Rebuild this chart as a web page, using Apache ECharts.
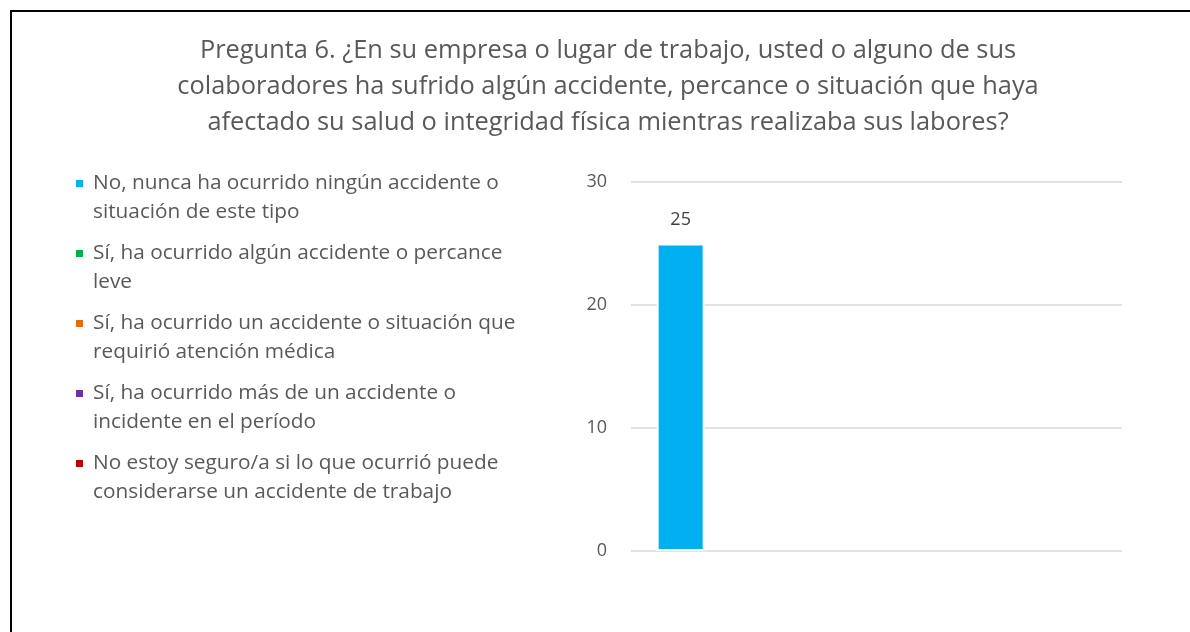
<!DOCTYPE html>
<html>
<head>
<meta charset="utf-8">
<script src="https://cdn.jsdelivr.net/npm/echarts@6/dist/echarts.min.js"></script>
<style>
html,body{margin:0;padding:0;background:#fff;}
#main{width:1190px;height:632px;}
</style>
</head>
<body>
<div id="main"></div>
<script>
var titleText = "Pregunta 6. ¿En su empresa o lugar de trabajo, usted o alguno de sus\ncolaboradores ha sufrido algún accidente, percance o situación que haya\nafectado su salud o integridad física mientras realizaba sus labores?";
var categories = [""];
var seriesNames = [
  "No, nunca ha ocurrido ningún accidente o situación de este tipo",
  "Sí, ha ocurrido algún accidente o percance leve",
  "Sí, ha ocurrido un accidente o situación que requirió atención médica",
  "Sí, ha ocurrido más de un accidente o incidente en el período",
  "No estoy seguro/a si lo que ocurrió puede considerarse un accidente de trabajo"
];
var legendLines = [
  ["No, nunca ha ocurrido ningún accidente o", "situación de este tipo"],
  ["Sí, ha ocurrido algún accidente o percance", "leve"],
  ["Sí, ha ocurrido un accidente o situación que", "requirió atención médica"],
  ["Sí, ha ocurrido más de un accidente o", "incidente en el período"],
  ["No estoy seguro/a si lo que ocurrió puede", "considerarse un accidente de trabajo"]
];
var seriesValues = [[25], [null], [null], [null], [null]];
var seriesColors = ["#00B0F0", "#00B050", "#E46C0A", "#7030A0", "#C00000"];
var yTicks = [0, 10, 20, 30];

var FONT = "Open Sans";
var chart = echarts.init(document.getElementById('main'));
var series = seriesNames.map(function (n, i) {
  return {
    name: n,
    type: 'bar',
    data: seriesValues[i],
    barWidth: 48,
    barGap: '104%',
    itemStyle: { color: seriesColors[i], borderColor: '#ffffff', borderWidth: 2 },
    label: { show: true, position: 'top', distance: 15, color: '#404040', fontSize: 18, fontFamily: FONT },
    emphasis: { disabled: true }
  };
});
var rich = {
  t: { fontFamily: FONT, fontSize: 20.8, color: '#595959', lineHeight: 29 },
  g: { width: 10, height: 7 },
  b: { width: 17, height: 7 }
};
seriesColors.forEach(function (c, i) {
  rich['s' + i] = { width: 7, height: 7, backgroundColor: c, verticalAlign: 'middle' };
});
chart.setOption({
  animation: false,
  backgroundColor: '#ffffff',
  title: {
    text: titleText,
    left: 603,
    textAlign: 'center',
    top: 28,
    textStyle: { fontFamily: FONT, fontSize: 25.4, fontWeight: 'normal', color: '#595959', lineHeight: 36 }
  },
  legend: {
    orient: 'vertical',
    left: 66,
    top: 164,
    itemWidth: 0,
    itemHeight: 0,
    itemGap: 12,
    icon: 'none',
    selectedMode: false,
    data: seriesNames,
    formatter: function (name) {
      var i = seriesNames.indexOf(name);
      return '{s' + i + '|}{g|}{t|' + legendLines[i][0] + '}\n{b|}{t|' + legendLines[i][1] + '}';
    },
    textStyle: { fontFamily: FONT, fontSize: 20.8, color: '#595959', lineHeight: 29, padding: 0, rich: rich }
  },
  grid: { left: 631, right: 68, top: 182, bottom: 81, containLabel: false },
  xAxis: {
    type: 'category',
    data: categories,
    axisLine: { show: false },
    axisTick: { show: false },
    axisLabel: { show: false }
  },
  yAxis: {
    type: 'value',
    min: yTicks[0],
    max: yTicks[yTicks.length - 1],
    interval: 10,
    axisLine: { show: false },
    axisTick: { show: false },
    axisLabel: { color: '#595959', fontSize: 18, fontFamily: FONT, margin: 24 },
    splitLine: { lineStyle: { color: '#D9D9D9', width: 1.5 } }
  },
  graphic: [{
    type: 'rect',
    shape: { x: 11, y: 11, width: 1300, height: 800 },
    style: { fill: 'none', stroke: '#000000', lineWidth: 2 },
    silent: true,
    z: 100
  }],
  series: series
});
</script>
</body>
</html>
